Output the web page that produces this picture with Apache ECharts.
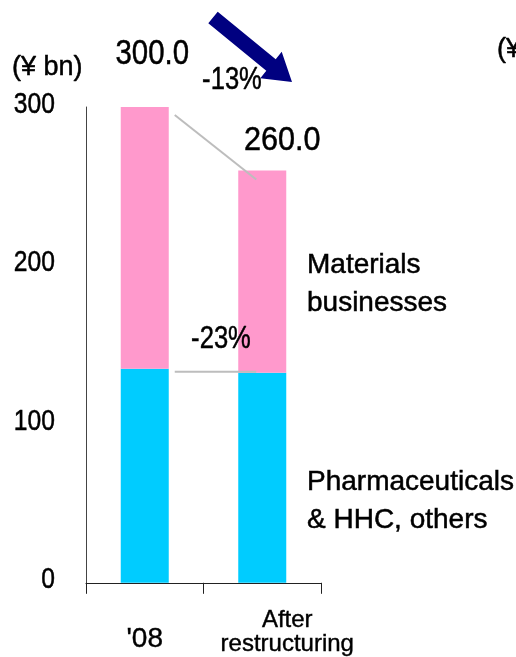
<!DOCTYPE html>
<html>
<head>
<meta charset="utf-8">
<script src="https://cdn.jsdelivr.net/npm/echarts@6/dist/echarts.min.js"></script>
<style>
html,body{margin:0;padding:0;background:#fff;}
#main{width:516px;height:657px;}
</style>
</head>
<body>
<div id="main"></div>
<script>
// Data
var categories = ["'08", "After\nrestructuring"];
var pharmaValues = [135, 132.5];
var materialsValues = [165, 127.5];
var totalLabels = ["300.0", "260.0"];
var changeLabels = ["-13%", "-23%"];
var yTicks = [0, 100, 200, 300];

var SANS = "'Liberation Sans', Arial, sans-serif";

var chart = echarts.init(document.getElementById('main'), null, {renderer: 'canvas'});

var option = {
  animation: false,
  backgroundColor: '#ffffff',
  grid: {left: 86, right: 195, top: 107, bottom: 74, containLabel: false},
  xAxis: {
    type: 'category',
    data: [
      {value: categories[0], textStyle: {fontSize: 28, lineHeight: 28, padding: [18, 0, 0, 0]}},
      {value: categories[1], textStyle: {fontSize: 24, lineHeight: 24, padding: [2, 0, 0, 50]}}
    ],
    axisLine: {show: true, lineStyle: {color: '#222', width: 1}},
    axisTick: {show: true, length: 11, inside: false, lineStyle: {color: '#222', width: 1}},
    axisLabel: {margin: 24, color: '#000', interval: 0, fontFamily: SANS, textBorderColor: '#000', textBorderWidth: 0.4}
  },
  yAxis: {
    type: 'value',
    min: yTicks[0],
    max: yTicks[yTicks.length - 1],
    interval: 100,
    axisLine: {show: true, lineStyle: {color: '#444', width: 1}},
    axisTick: {show: false},
    splitLine: {show: false},
    axisLabel: {show: false}
  },
  series: [
    {
      name: 'Pharmaceuticals & HHC, others',
      type: 'bar',
      stack: 'total',
      barWidth: 48,
      itemStyle: {color: '#00ccff'},
      data: pharmaValues
    },
    {
      name: 'Materials businesses',
      type: 'bar',
      stack: 'total',
      barWidth: 48,
      itemStyle: {color: '#ff99cc'},
      data: materialsValues
    }
  ]
};
chart.setOption(option);

function px(cat, val) { return chart.convertToPixel({xAxisIndex: 0, yAxisIndex: 0}, [cat, val]); }
function py(val) { return chart.convertToPixel({yAxisIndex: 0}, val); }

var p0Top = px(0, pharmaValues[0] + materialsValues[0]);
var p1Top = px(1, pharmaValues[1] + materialsValues[1]);
var p1Blue = px(1, pharmaValues[1]);
var half = 24;

function txt(x, y, s, size, sx, align, extra) {
  var st = {text: s, fontSize: size, fontFamily: SANS, fill: '#000', align: align || 'center', verticalAlign: 'middle',
            stroke: '#000', lineWidth: 0.5};
  if (extra) for (var k in extra) st[k] = extra[k];
  return {type: 'text', x: x, y: y, scaleX: sx, scaleY: 1, style: st, z: 11};
}

var graphics = [
  {type: 'line', shape: {x1: p0Top[0] + half + 6, y1: p0Top[1] + 8, x2: p1Top[0] - 6, y2: p1Top[1] + 9},
   style: {stroke: '#bdbdbd', lineWidth: 2}, z: 10},
  {type: 'line', shape: {x1: p0Top[0] + half + 6, y1: p1Blue[1] - 1, x2: p1Top[0] - 6, y2: p1Blue[1] - 1},
   style: {stroke: '#bdbdbd', lineWidth: 2}, z: 10},
  {type: 'polygon', shape: {points: [[217.7, 11.7], [275.7, 59.2], [281.7, 51.8], [292, 82], [260.3, 78.2], [266.3, 70.8], [208.3, 23.3]]},
   style: {fill: '#000080'}, z: 10},
  // totals
  txt(p0Top[0] + 7.5, p0Top[1] - 53, totalLabels[0], 35, 0.84),
  txt(p1Top[0] + 20, p1Top[1] - 30, totalLabels[1], 34, 0.9),
  // change labels
  txt(232, 80, changeLabels[0], 32, 0.8),
  txt(221, 339, changeLabels[1], 32, 0.8),
  // units
  txt(12, 68, '(\u00a5 bn)', 27, 1, 'left'),
  txt(497, 50, '(\u00a5 bn)', 27, 1, 'left'),
  // category descriptions
  txt(307, 284, 'Materials\nbusinesses', 28, 1, 'left', {lineHeight: 38}),
  txt(307, 501, 'Pharmaceuticals\n& HHC, others', 28, 1, 'left', {lineHeight: 38})
];
// y tick labels
yTicks.forEach(function (v) {
  graphics.push(txt(55, py(v) - 2.5, String(v), 29, 0.85, 'right'));
});

chart.setOption({graphic: graphics});
</script>
</body>
</html>
